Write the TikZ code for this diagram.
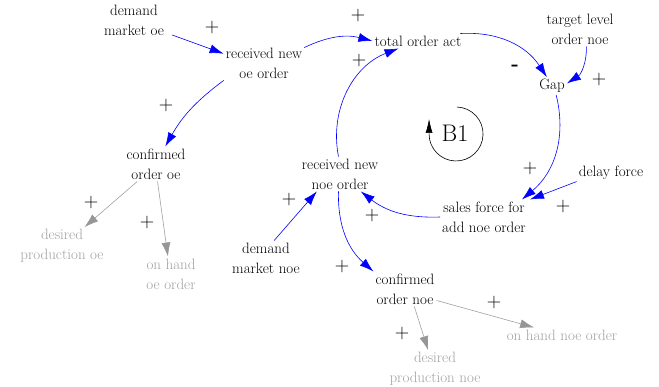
\documentclass[tikz,border=0pt]{standalone}
\usetikzlibrary{arrows.meta}
\definecolor{linkblue}{RGB}{0,0,255}
\definecolor{auxgray}{RGB}{160,160,160}
\definecolor{headgray}{RGB}{150,150,150}

\newcommand{\varfont}{\fontsize{15}{20}\selectfont}
\newcommand{\signfont}{\fontsize{20}{20}\selectfont}

\begin{document}
\begin{tikzpicture}[x=1pt, y=1pt,
  var/.style={font=\varfont, align=center, inner sep=2pt},
  aux/.style={var, text=auxgray},
  sign/.style={font=\signfont, inner sep=0pt},
  link/.style={draw=linkblue, line width=0.6pt, -{Latex[length=14pt,width=9pt]}},
  glink/.style={draw=auxgray, line width=0.6pt, -{Latex[length=14pt,width=9pt,color=headgray]}}]

\useasboundingbox (0,0) rectangle (659,-387);

%---------------------------------------
% Variables
%---------------------------------------
\node[var] (dmo)    at (134,-20)  {demand\\market oe};
\node[var] (rnoe)   at (264,-63)  {received new\\oe order};
\node[var] (coe)    at (156,-164) {confirmed\\order oe};
\node[aux] (dpoe)   at (62,-246)  {desired\\production oe};
\node[aux] (ohoe)   at (171,-274) {on hand\\oe order};

\node[var] (toa)    at (418,-41)  {total order act};
\node[var] (target) at (580,-29)  {target level\\order noe};
\node[var] (gap)    at (552,-86)  {Gap};
\node[var] (delay)  at (611,-173) {delay force};
\node[var] (sfa)    at (484,-217) {sales force for\\add noe order};
\node[var] (rnne)   at (340,-174) {received new\\noe order};
\node[var] (dmn)    at (266,-258) {demand\\market noe};
\node[var] (cnoe)   at (405,-289) {confirmed\\order noe};
\node[aux] (ohnoe)  at (562,-335) {on hand noe order};
\node[aux] (dpnoe)  at (435,-369) {desired\\production noe};

%---------------------------------------
% Links
%---------------------------------------
\draw[link] ([xshift=6pt]dmo.-25) -- (rnoe.167);
\draw[link] (rnoe.21) to[bend left=20] (toa.west);
\draw[link] (toa.10) to[bend left=30] (gap.120);
\draw[link] (target.-70) to[bend left=30] (gap.10);
\draw[link] (gap.-65) to[bend left=32] ([xshift=-6pt]sfa.north east);
\draw[link] (delay.194) -- ([xshift=2pt]sfa.north east);
\draw[link] (sfa.west) to[bend left=20] (rnne.-40);
\draw[link] (rnne.95) to[bend left=40] (toa.-159);
\draw[link] (rnne.-95) to[bend right=25] (cnoe.north west);
\draw[link] (dmn.65) -- (rnne.-143);
\draw[link] (rnoe.south west) to[bend right=12] (coe.62);

\draw[glink] (coe.-137) -- (dpoe.40);
\draw[glink] (coe.-85) -- (ohoe.100);
\draw[glink] (cnoe.-20) -- (ohnoe.165);
\draw[glink] (cnoe.-62) -- (dpnoe.110);

%---------------------------------------
% Polarities
%---------------------------------------
\node[sign] (s1)  at (212,-28)  {+};
\node[sign] (s2)  at (358,-16)  {+};
\node[sign] (s3)  at (359,-61)  {+};
\node[sign] (s4)  at (515,-68)  {\textbf{-}};
\node[sign] (s5)  at (599,-80)  {+};
\node[sign] (s6)  at (166,-106) {+};
\node[sign] (s7)  at (530,-169) {+};
\node[sign] (s8)  at (563,-207) {+};
\node[sign] (s9)  at (372,-216) {+};
\node[sign] (s10) at (289,-200) {+};
\node[sign] (s11) at (342,-267) {+};
\node[sign] (s12) at (91,-203)  {+};
\node[sign] (s13) at (147,-223) {+};
\node[sign] (s14) at (494,-303) {+};
\node[sign] (s15) at (402,-334) {+};

%---------------------------------------
% Loop marker
%---------------------------------------
\node[font=\fontsize{24}{24}\selectfont, inner sep=0pt] (loop) at (455,-133) {B1};
\draw[line width=0.6pt, -{Latex[length=14pt,width=7pt]}]
  (457,-107) arc[start angle=88, end angle=-180, radius=27] -- ++(0,15);

\end{tikzpicture}
\end{document}
